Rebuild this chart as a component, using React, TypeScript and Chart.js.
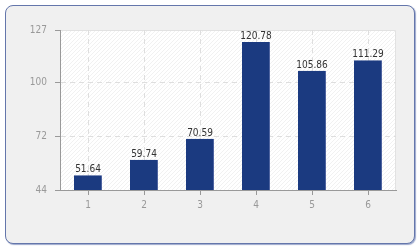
import React, { useEffect, useRef } from "react";
import { Chart, registerables } from "chart.js";

Chart.register(...registerables);

const categories = ["1", "2", "3", "4", "5", "6"];
const values = [51.64, 59.74, 70.59, 120.78, 105.86, 111.29];
const yTickValues = [44, 72, 100, 127];

const FONT = "'DejaVu Sans Condensed', 'DejaVu Sans', sans-serif";

const plotBg = {
  id: "plotBg",
  beforeDraw(chart: any) {
    const { ctx, chartArea: a } = chart;
    ctx.save();
    ctx.fillStyle = "#ffffff";
    ctx.fillRect(a.left, a.top, a.right - a.left, a.bottom - a.top);
    ctx.beginPath();
    ctx.rect(a.left, a.top, a.right - a.left, a.bottom - a.top);
    ctx.clip();
    ctx.strokeStyle = "#f1f1f1";
    ctx.lineWidth = 1;
    const h = a.bottom - a.top;
    for (let x = a.left - h; x < a.right + h; x += 4) {
      ctx.beginPath();
      ctx.moveTo(x, a.bottom);
      ctx.lineTo(x + h, a.top);
      ctx.stroke();
    }
    ctx.restore();
    ctx.save();
    ctx.strokeStyle = "#e2e2e2";
    ctx.lineWidth = 1;
    ctx.beginPath();
    ctx.moveTo(a.left, a.top + 0.5);
    ctx.lineTo(a.right - 0.5, a.top + 0.5);
    ctx.lineTo(a.right - 0.5, a.bottom);
    ctx.stroke();
    ctx.restore();
  },
};

const barLabels = {
  id: "barLabels",
  afterDatasetsDraw(chart: any) {
    const { ctx } = chart;
    const meta = chart.getDatasetMeta(0);
    ctx.save();
    ctx.fillStyle = "#333333";
    ctx.font = `10px ${FONT}`;
    ctx.textAlign = "center";
    ctx.textBaseline = "alphabetic";
    meta.data.forEach((el: any, i: number) => {
      ctx.fillText(values[i].toFixed(2), el.x, el.y - 3);
    });
    ctx.restore();
  },
};

export default function App() {
  const ref = useRef<HTMLCanvasElement>(null);
  useEffect(() => {
    if (!ref.current) return;
    const chart = new Chart(ref.current, {
      type: "bar",
      data: {
        labels: categories,
        datasets: [
          {
            data: values,
            backgroundColor: "#1b3a80",
            borderColor: "#4f64a0",
            borderWidth: { left: 0, top: 0, bottom: 0, right: 1 },
            borderSkipped: false,
            barPercentage: 0.5,
            categoryPercentage: 1,
          },
        ],
      },
      options: {
        responsive: false,
        animation: false,
        layout: { padding: { left: 0, top: 30, right: 24, bottom: 0 } },
        plugins: { legend: { display: false }, tooltip: { enabled: false } },
        scales: {
          x: {
            offset: true,
            grid: {
              offset: false,
              color: "#dedede",
              tickColor: "#999999",
              tickLength: 5,
            },
            border: { color: "#999999", width: 1, dash: [5, 4] },
            ticks: { color: "#999999", font: { family: FONT, size: 10 }, padding: 4 },
            afterFit(scale: any) {
              scale.height = 60;
            },
          },
          y: {
            min: 44,
            max: 127,
            afterBuildTicks(scale: any) {
              scale.ticks = yTickValues.map((v) => ({ value: v }));
            },
            grid: {
              color: (c: any) =>
                c.tick && (c.tick.value === 127 || c.tick.value === 44) ? "rgba(0,0,0,0)" : "#dedede",
              tickColor: "#999999",
              tickLength: 5,
            },
            border: { color: "#999999", width: 1, dash: [5, 4] },
            ticks: { color: "#999999", font: { family: FONT, size: 10 }, padding: 8 },
            afterFit(scale: any) {
              scale.width = 60;
            },
          },
        },
      },
      plugins: [plotBg, barLabels],
    });
    return () => chart.destroy();
  }, []);

  return (
    <div style={{ position: "absolute", left: 0, top: 0, width: 420, height: 250 }}>
      <div
        style={{
          position: "absolute",
          left: 5,
          top: 5,
          width: 408,
          height: 237,
          border: "1px solid #6476ab",
          borderRadius: 8,
          background: "#f0f0f0",
          boxShadow: "1px 1px 1px rgba(90,110,170,0.6)",
        }}
      />
      <canvas ref={ref} width={420} height={250} style={{ position: "absolute", left: 0, top: 0 }} />
    </div>
  );
}
